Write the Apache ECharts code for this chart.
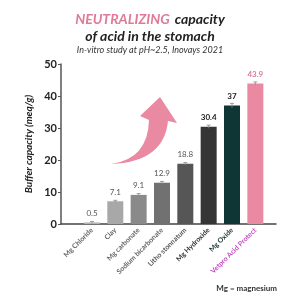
<!DOCTYPE html>
<html>
<head>
<meta charset="utf-8">
<script src="https://cdn.jsdelivr.net/npm/echarts@6/dist/echarts.min.js"></script>
<style>
  html, body { margin: 0; padding: 0; background: #fff; }
  #chart { width: 300px; height: 300px; }
</style>
</head>
<body>
<div id="chart"></div>
<script>
// data
const categories = ['Mg Chloride', 'Clay', 'Mg carbonate', 'Sodium bicarbonate', 'Litho stonnatum', 'Mg Hydroxide', 'Mg Oxide', 'Vetpro Acid Protect'];
const values = [0.5, 7.1, 9.1, 12.9, 18.8, 30.4, 37, 43.9];
const errors = [0.3, 0.3, 0.4, 0.4, 0.4, 0.5, 0.7, 0.5];
const yTicks = [0, 10, 20, 30, 40, 50];

const barColors = ['#b5b5b5', '#a8a8a8', '#8a8a8a', '#717171', '#565656', '#353535', '#103535', '#ea8aa2'];
const valueColors = ['#555', '#555', '#555', '#555', '#555', '#222', '#222', '#e07a98'];
const catColors = ['#666', '#666', '#666', '#666', '#555', '#333', '#1a3535', '#c04cc0'];

// decorative curved arrow
echarts.graphic.registerShape('curvedArrow', echarts.graphic.extendPath(
    'M111 164 Q148 159 149 120 L140 116 L160 97 L177 123 L168 121 Q164 162 111 164 Z', {}));

const chart = echarts.init(document.getElementById('chart'), null, {renderer: 'canvas'});

const option = {
    backgroundColor: '#fff',
    animation: false,
    title: [
        {
            left: 'center', top: 5,
            text: '{p|NEUTRALIZING} {d|capacity}\n{d|of acid in the stomach}',
            textStyle: {
                rich: {
                    p: {color: '#e07a98', fontSize: 14, fontWeight: 'bold', fontStyle: 'italic', fontFamily: 'Lato', lineHeight: 16},
                    d: {color: '#222', fontSize: 14, fontWeight: 'bold', fontStyle: 'italic', fontFamily: 'Lato', lineHeight: 16}
                }
            }
        },
        {
            left: 'center', top: 41,
            text: 'In-vitro study at pH~2.5, Inovays 2021',
            textStyle: {color: '#333', fontSize: 9, fontStyle: 'italic', fontWeight: 'normal', fontFamily: 'Lato'}
        },
        {
            right: 18, top: 279,
            text: 'Mg = magnesium',
            textStyle: {color: '#333', fontSize: 8, fontWeight: 'bold', fontFamily: 'Lato'}
        }
    ],
    grid: [
        {left: 61, top: 64, width: 215, height: 160},
        {left: 80.3, top: 64, width: 186.7, height: 160}
    ],
    xAxis: [
        {
            gridIndex: 0, type: 'value', min: 0, max: 1,
            axisLine: {show: true, lineStyle: {color: '#444', width: 1.5}},
            axisTick: {show: false}, axisLabel: {show: false}, splitLine: {show: false}
        },
        {
            gridIndex: 1, type: 'category', data: categories,
            axisLine: {show: false}, axisTick: {show: false},
            axisLabel: {
                rotate: 45, margin: 5, fontSize: 7, fontFamily: 'Lato',
                color: (v, i) => catColors[i],
                fontWeight: 'bold'
            }
        }
    ],
    yAxis: [
        {
            gridIndex: 0, type: 'value', min: 0, max: 50, interval: 10,
            name: 'Buffer capacity (meq/g)', nameLocation: 'middle', nameGap: 26,
            nameTextStyle: {color: '#222', fontSize: 10, fontWeight: 'bold', fontStyle: 'italic', fontFamily: 'Lato'},
            axisLine: {show: true, lineStyle: {color: '#555', width: 1.5}},
            axisTick: {show: true, length: 3, lineStyle: {color: '#555'}},
            axisLabel: {color: '#222', fontSize: 11, fontWeight: 'bold', fontFamily: 'Lato', margin: 4},
            splitLine: {show: false}
        },
        {
            gridIndex: 1, type: 'value', min: 0, max: 50, show: false
        }
    ],
    graphic: [
        {type: 'curvedArrow', style: {fill: '#ea8aa2'}}
    ],
    series: [
        {
            type: 'bar', xAxisIndex: 1, yAxisIndex: 1, barWidth: 16,
            data: values.map((v, i) => ({value: v, itemStyle: {color: barColors[i]},
                label: {color: valueColors[i], fontWeight: i >= 5 ? 'bold' : 'normal'}})),
            label: {show: true, position: 'top', distance: 5, fontSize: 8, fontFamily: 'Lato'}
        },
        {
            type: 'custom', xAxisIndex: 1, yAxisIndex: 1,
            data: values.map((v, i) => [i, v - errors[i], v + errors[i]]),
            renderItem: (params, api) => {
                const lo = api.coord([api.value(0), api.value(1)]);
                const hi = api.coord([api.value(0), api.value(2)]);
                const w = 2;
                const st = {stroke: '#888', lineWidth: 0.8};
                return {type: 'group', children: [
                    {type: 'line', shape: {x1: lo[0], y1: lo[1], x2: hi[0], y2: hi[1]}, style: st},
                    {type: 'line', shape: {x1: hi[0] - w, y1: hi[1], x2: hi[0] + w, y2: hi[1]}, style: st}
                ]};
            },
            z: 5
        }
    ]
};

chart.setOption(option);
</script>
</body>
</html>
